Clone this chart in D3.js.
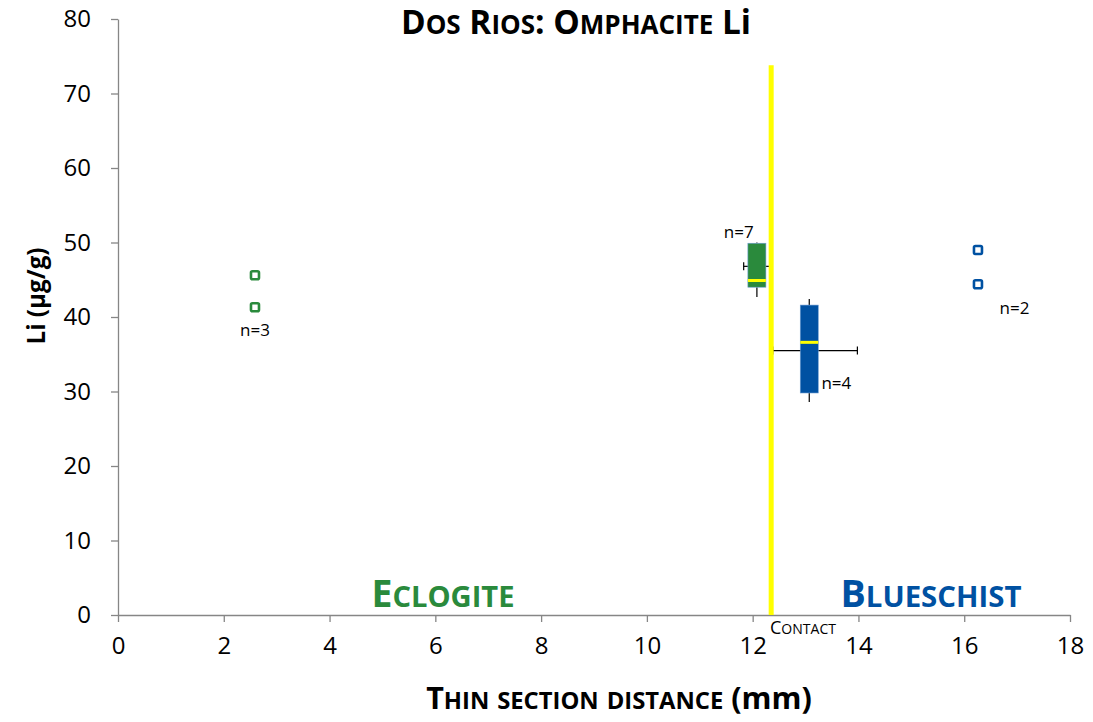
<!DOCTYPE html>
<html>
<head>
<meta charset="utf-8">
<script src="https://cdn.jsdelivr.net/npm/d3@7"></script>
<style>
  body { margin: 0; background: #fff; }
  text { font-family: "Open Sans", "DejaVu Sans", sans-serif; }
</style>
</head>
<body>
<div id="chart"></div>
<script>
// ---- data ----
var eclogitePts = [[2.59, 45.6], [2.59, 41.3]];
var blueschistPts = [[16.26, 49.0], [16.26, 44.4]];
// box: x, q1, median, q3, whisker low, whisker high, x-err low, x-err high, y of x-err
var boxes = [
    { x: 12.08, q1: 44.0, med: 44.9, q3: 49.9, lo: 42.7, hi: 50.0, xlo: 11.83, xhi: 12.35, xy: 46.8, fill: "#2a8a3c" },
    { x: 13.07, q1: 29.8, med: 36.6, q3: 41.6, lo: 28.6, hi: 42.4, xlo: 12.38, xhi: 13.98, xy: 35.5, fill: "#0051a2" }
];
var nLabels = [
    { x: 2.59, y: 37.5, t: "n=3", anchor: "middle" },
    { x: 12.02, y: 50.6, t: "n=7", anchor: "end" },
    { x: 13.3, y: 30.4, t: "n=4", anchor: "start" },
    { x: 16.95, y: 40.4, t: "n=2", anchor: "middle" }
];
var contactX = 12.35, contactTop = 73.8;
var xTicks = [0, 2, 4, 6, 8, 10, 12, 14, 16, 18];
var yTicks = [0, 10, 20, 30, 40, 50, 60, 70, 80];

var W = 1093, H = 722;
var svg = d3.select("#chart").append("svg")
    .attr("width", W).attr("height", H);

var x = d3.scaleLinear().domain([0, 18]).range([118, 1070]);
var y = d3.scaleLinear().domain([0, 80]).range([615, 19]);
var green = "#2a8a3c", blue = "#0051a2", axisCol = "#868686";

// small caps by hand: lower case letters become smaller capitals
function smallCaps(sel, str, size, ratio) {
    var runs = str.match(/([a-z]+|[^a-z]+)/g);
    runs.forEach(function (r) {
        var low = /[a-z]/.test(r);
        sel.append("tspan")
            .style("font-size", (low ? size * ratio : size) + "px")
            .text(low ? r.toUpperCase() : r);
    });
}
// scale a text's font so it spans the wanted width
function fitWidth(sel, w) {
    var cur = sel.node().getComputedTextLength();
    var k = w / cur;
    sel.selectAll("tspan").each(function () {
        var s = parseFloat(this.style.fontSize);
        if (s) d3.select(this).style("font-size", (s * k) + "px");
    });
    if (sel.selectAll("tspan").empty()) {
        sel.style("font-size", (parseFloat(sel.style("font-size")) * k) + "px");
    }
}

// axes
var xAxis = svg.append("g")
    .attr("transform", "translate(0," + y(0) + ")")
    .call(d3.axisBottom(x).tickValues(xTicks).tickSize(7).tickSizeOuter(0).tickPadding(15));
var yAxis = svg.append("g")
    .attr("transform", "translate(" + x(0) + ",0)")
    .call(d3.axisLeft(y).tickValues(yTicks).tickSize(7).tickSizeOuter(0).tickPadding(20));
[xAxis, yAxis].forEach(function (a) {
    a.select(".domain").attr("stroke", axisCol).attr("stroke-width", 1.3);
    a.selectAll(".tick line").attr("stroke", axisCol).attr("stroke-width", 1.3);
    a.selectAll(".tick text").attr("fill", "#000").style("font-size", "24px")
        .style("font-family", "'Open Sans', sans-serif");
});

// boxes
boxes.forEach(function (b) {
    var bw = 18, cx = x(b.x);
    var g = svg.append("g");
    g.append("line").attr("x1", cx).attr("x2", cx).attr("y1", y(b.hi)).attr("y2", y(b.q3))
        .attr("stroke", "#000").attr("stroke-width", 1.2);
    g.append("line").attr("x1", cx).attr("x2", cx).attr("y1", y(b.q1)).attr("y2", y(b.lo))
        .attr("stroke", "#000").attr("stroke-width", 1.2);
    g.append("line").attr("x1", x(b.xlo)).attr("x2", x(b.xhi)).attr("y1", y(b.xy)).attr("y2", y(b.xy))
        .attr("stroke", "#000").attr("stroke-width", 1.2);
    [b.xlo, b.xhi].forEach(function (v) {
        g.append("line").attr("x1", x(v)).attr("x2", x(v)).attr("y1", y(b.xy) - 4).attr("y2", y(b.xy) + 4)
            .attr("stroke", "#000").attr("stroke-width", 1.2);
    });
    g.append("rect").attr("x", cx - bw / 2).attr("width", bw)
        .attr("y", y(b.q3)).attr("height", y(b.q1) - y(b.q3))
        .attr("fill", b.fill).attr("stroke", "#6a9ad0").attr("stroke-width", 0.6);
    g.append("line").attr("x1", cx - bw / 2).attr("x2", cx + bw / 2)
        .attr("y1", y(b.med)).attr("y2", y(b.med))
        .attr("stroke", "#ffff00").attr("stroke-width", 3);
});

// contact line
svg.append("line").attr("x1", x(contactX)).attr("x2", x(contactX))
    .attr("y1", y(contactTop)).attr("y2", y(0))
    .attr("stroke", "#ffff00").attr("stroke-width", 5);

// points
function pts(data, col) {
    svg.selectAll(null).data(data).enter().append("rect")
        .attr("x", function (d) { return x(d[0]) - 4; })
        .attr("y", function (d) { return y(d[1]) - 4; })
        .attr("width", 8).attr("height", 8).attr("rx", 1.5)
        .attr("fill", "#fff").attr("stroke", col).attr("stroke-width", 2.6);
}
pts(eclogitePts, green);
pts(blueschistPts, blue);

// n labels
svg.selectAll(null).data(nLabels).enter().append("text")
    .attr("x", function (d) { return x(d.x); })
    .attr("y", function (d) { return y(d.y); })
    .attr("text-anchor", function (d) { return d.anchor; })
    .style("font-size", "17px")
    .text(function (d) { return d.t; });

// title
var title = svg.append("text").attr("x", 576).attr("y", 34).attr("text-anchor", "middle")
    .style("font-weight", "bold");
smallCaps(title, "Dos Rios: Omphacite ", 26, 0.78);
title.append("tspan").style("font-size", "26px").text("Li");
fitWidth(title, 350);

// axis titles
var xt = svg.append("text").attr("x", 619).attr("y", 709).attr("text-anchor", "middle")
    .style("font-weight", "bold");
smallCaps(xt, "Thin section distance ", 22, 0.78);
xt.append("tspan").style("font-size", "22px").text("(mm)");
fitWidth(xt, 386);

var yt = svg.append("text").attr("transform", "translate(45," + 296 + ") rotate(-90)")
    .attr("text-anchor", "middle").style("font-size", "24px").style("font-weight", "bold")
    .text("Li (µg/g)");
fitWidth(yt, 97);

// region labels
var ecl = svg.append("text").attr("x", 443).attr("y", 607).attr("text-anchor", "middle")
    .style("font-weight", "bold").attr("fill", green);
smallCaps(ecl, "Eclogite", 32, 0.78);
fitWidth(ecl, 143);
var blu = svg.append("text").attr("x", 931).attr("y", 607).attr("text-anchor", "middle")
    .style("font-weight", "bold").attr("fill", blue);
smallCaps(blu, "Blueschist", 32, 0.78);
fitWidth(blu, 181);
var con = svg.append("text").attr("x", 770).attr("y", 634).attr("text-anchor", "start");
smallCaps(con, "Contact", 16, 0.78);
fitWidth(con, 66);
</script>
</body>
</html>
